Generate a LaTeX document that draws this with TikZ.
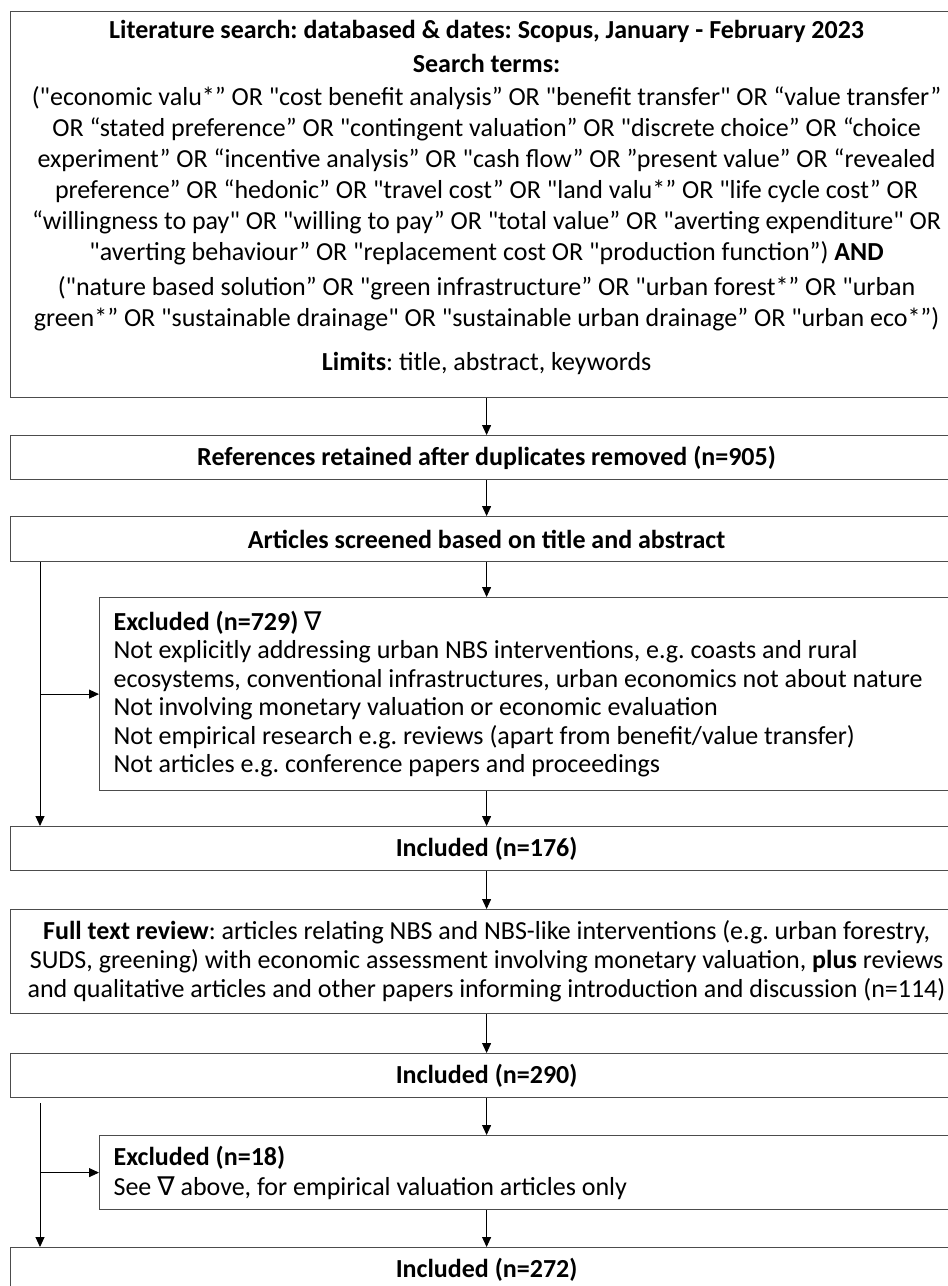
\documentclass[tikz,border=0pt]{standalone}
\usepackage{fontspec}
\setmainfont{Carlito}[Ligatures=TeXOff]
\newfontfamily\nablafont{DejaVu Sans}
\usetikzlibrary{arrows.meta}
\newcommand{\tri}{{\nablafont ∇}}
\frenchspacing

\begin{document}
\begin{tikzpicture}[x=1pt, y=-1pt,
    font=\fontsize{26}{31}\selectfont,
    box/.style={draw=black!70, line width=1.2pt, minimum width=952pt, inner sep=0pt, align=center, anchor=north west},
    sidebox/.style={box, minimum width=863pt, text width=835pt, align=flush left, font=\fontsize{26}{28.5}\selectfont},
    arr/.style={-{Triangle[length=10pt,width=9pt]}, line width=0.9pt}]

      \fill[white] (0,0) rectangle (948,1286);
      \useasboundingbox (0,0) rectangle (948,1286);

      % search strategy
      \node[box, minimum height=386pt] (search) at (10,11) {%
        \textbf{Literature search: databased \& dates: Scopus, January - February 2023}\\[3pt]
        \textbf{Search terms:}\\[2pt]
        ("economic valu*” OR "cost benefit analysis” OR "benefit transfer" OR “value transfer”\\
        OR “stated preference” OR "contingent valuation” OR "discrete choice” OR “choice\\
        experiment” OR “incentive analysis” OR "cash flow” OR ”present value” OR “revealed\\
        preference” OR “hedonic” OR "travel cost” OR "land valu*” OR "life cycle cost” OR\\
        “willingness to pay" OR "willing to pay” OR "total value” OR "averting expenditure" OR\\
        "averting behaviour” OR "replacement cost OR "production function”) \textbf{AND}\\[4pt]
        ("nature based solution” OR "green infrastructure” OR "urban forest*” OR "urban\\
        green*” OR "sustainable drainage" OR "sustainable urban drainage” OR "urban eco*”)\\[13pt]
        \textbf{Limits}: title, abstract, keywords\\[-12pt]\rule{0pt}{0pt}};

      \node[box, minimum height=44pt] (dedup) at (10,435) {\textbf{References retained after duplicates removed (n=905)}};
      \node[box, minimum height=45pt] (screen) at (10,516) {\textbf{Articles screened based on title and abstract}};

      \node[sidebox, minimum height=193pt] (excl1) at (99,597) {%
        \textbf{Excluded (n=729)} \tri\\
        Not explicitly addressing urban NBS interventions, e.g. coasts and rural\\
        ecosystems, conventional infrastructures, urban economics not about nature\\
        Not involving monetary valuation or economic evaluation\\
        Not empirical research e.g. reviews (apart from benefit/value transfer)\\
        Not articles e.g. conference papers and proceedings};

      \node[box, minimum height=44pt] (inc1) at (10,826) {\textbf{Included (n=176)}};

      \node[box, minimum height=104pt, font=\fontsize{26}{29}\selectfont] (fulltext) at (10,909) {%
        \textbf{Full text review}: articles relating NBS and NBS-like interventions (e.g. urban forestry,\\
        SUDS, greening) with economic assessment involving monetary valuation, \textbf{plus} reviews\\
        and qualitative articles and other papers informing introduction and discussion (n=114)};

      \node[box, minimum height=44pt] (inc2) at (10,1053) {\textbf{Included (n=290)}};

      \node[sidebox, minimum height=74pt, font=\fontsize{26}{30}\selectfont] (excl2) at (99,1135) {%
        \textbf{Excluded (n=18)}\\
        See \tri{} above, for empirical valuation articles only};

      \node[box, minimum height=44pt] (inc3) at (10,1247) {\textbf{Included (n=272)}};

      \coordinate (rail) at (40,0);

      % main flow
      \draw[arr] (search) -- (dedup);
      \draw[arr] (dedup) -- (screen);
      \draw[arr] (screen.south) -- (screen.south |- excl1.north);
      \draw[arr] (excl1.south -| screen.south) -- (inc1);
      \draw[arr] (inc1) -- (fulltext);
      \draw[arr] (fulltext) -- (inc2);
      \draw[arr] (inc2.south) -- (inc2.south |- excl2.north);
      \draw[arr] (excl2.south -| inc2.south) -- (inc3);

      % side branches
      \draw[arr] (screen.south -| rail) -- (inc1.north -| rail);
      \draw[arr] (rail |- excl1.west) -- (excl1.west);
      \draw[arr] ([yshift=-5pt]inc2.south -| rail) -- (inc3.north -| rail);
      \draw[arr] (rail |- excl2.west) -- (excl2.west);

    \end{tikzpicture}
\end{document}
